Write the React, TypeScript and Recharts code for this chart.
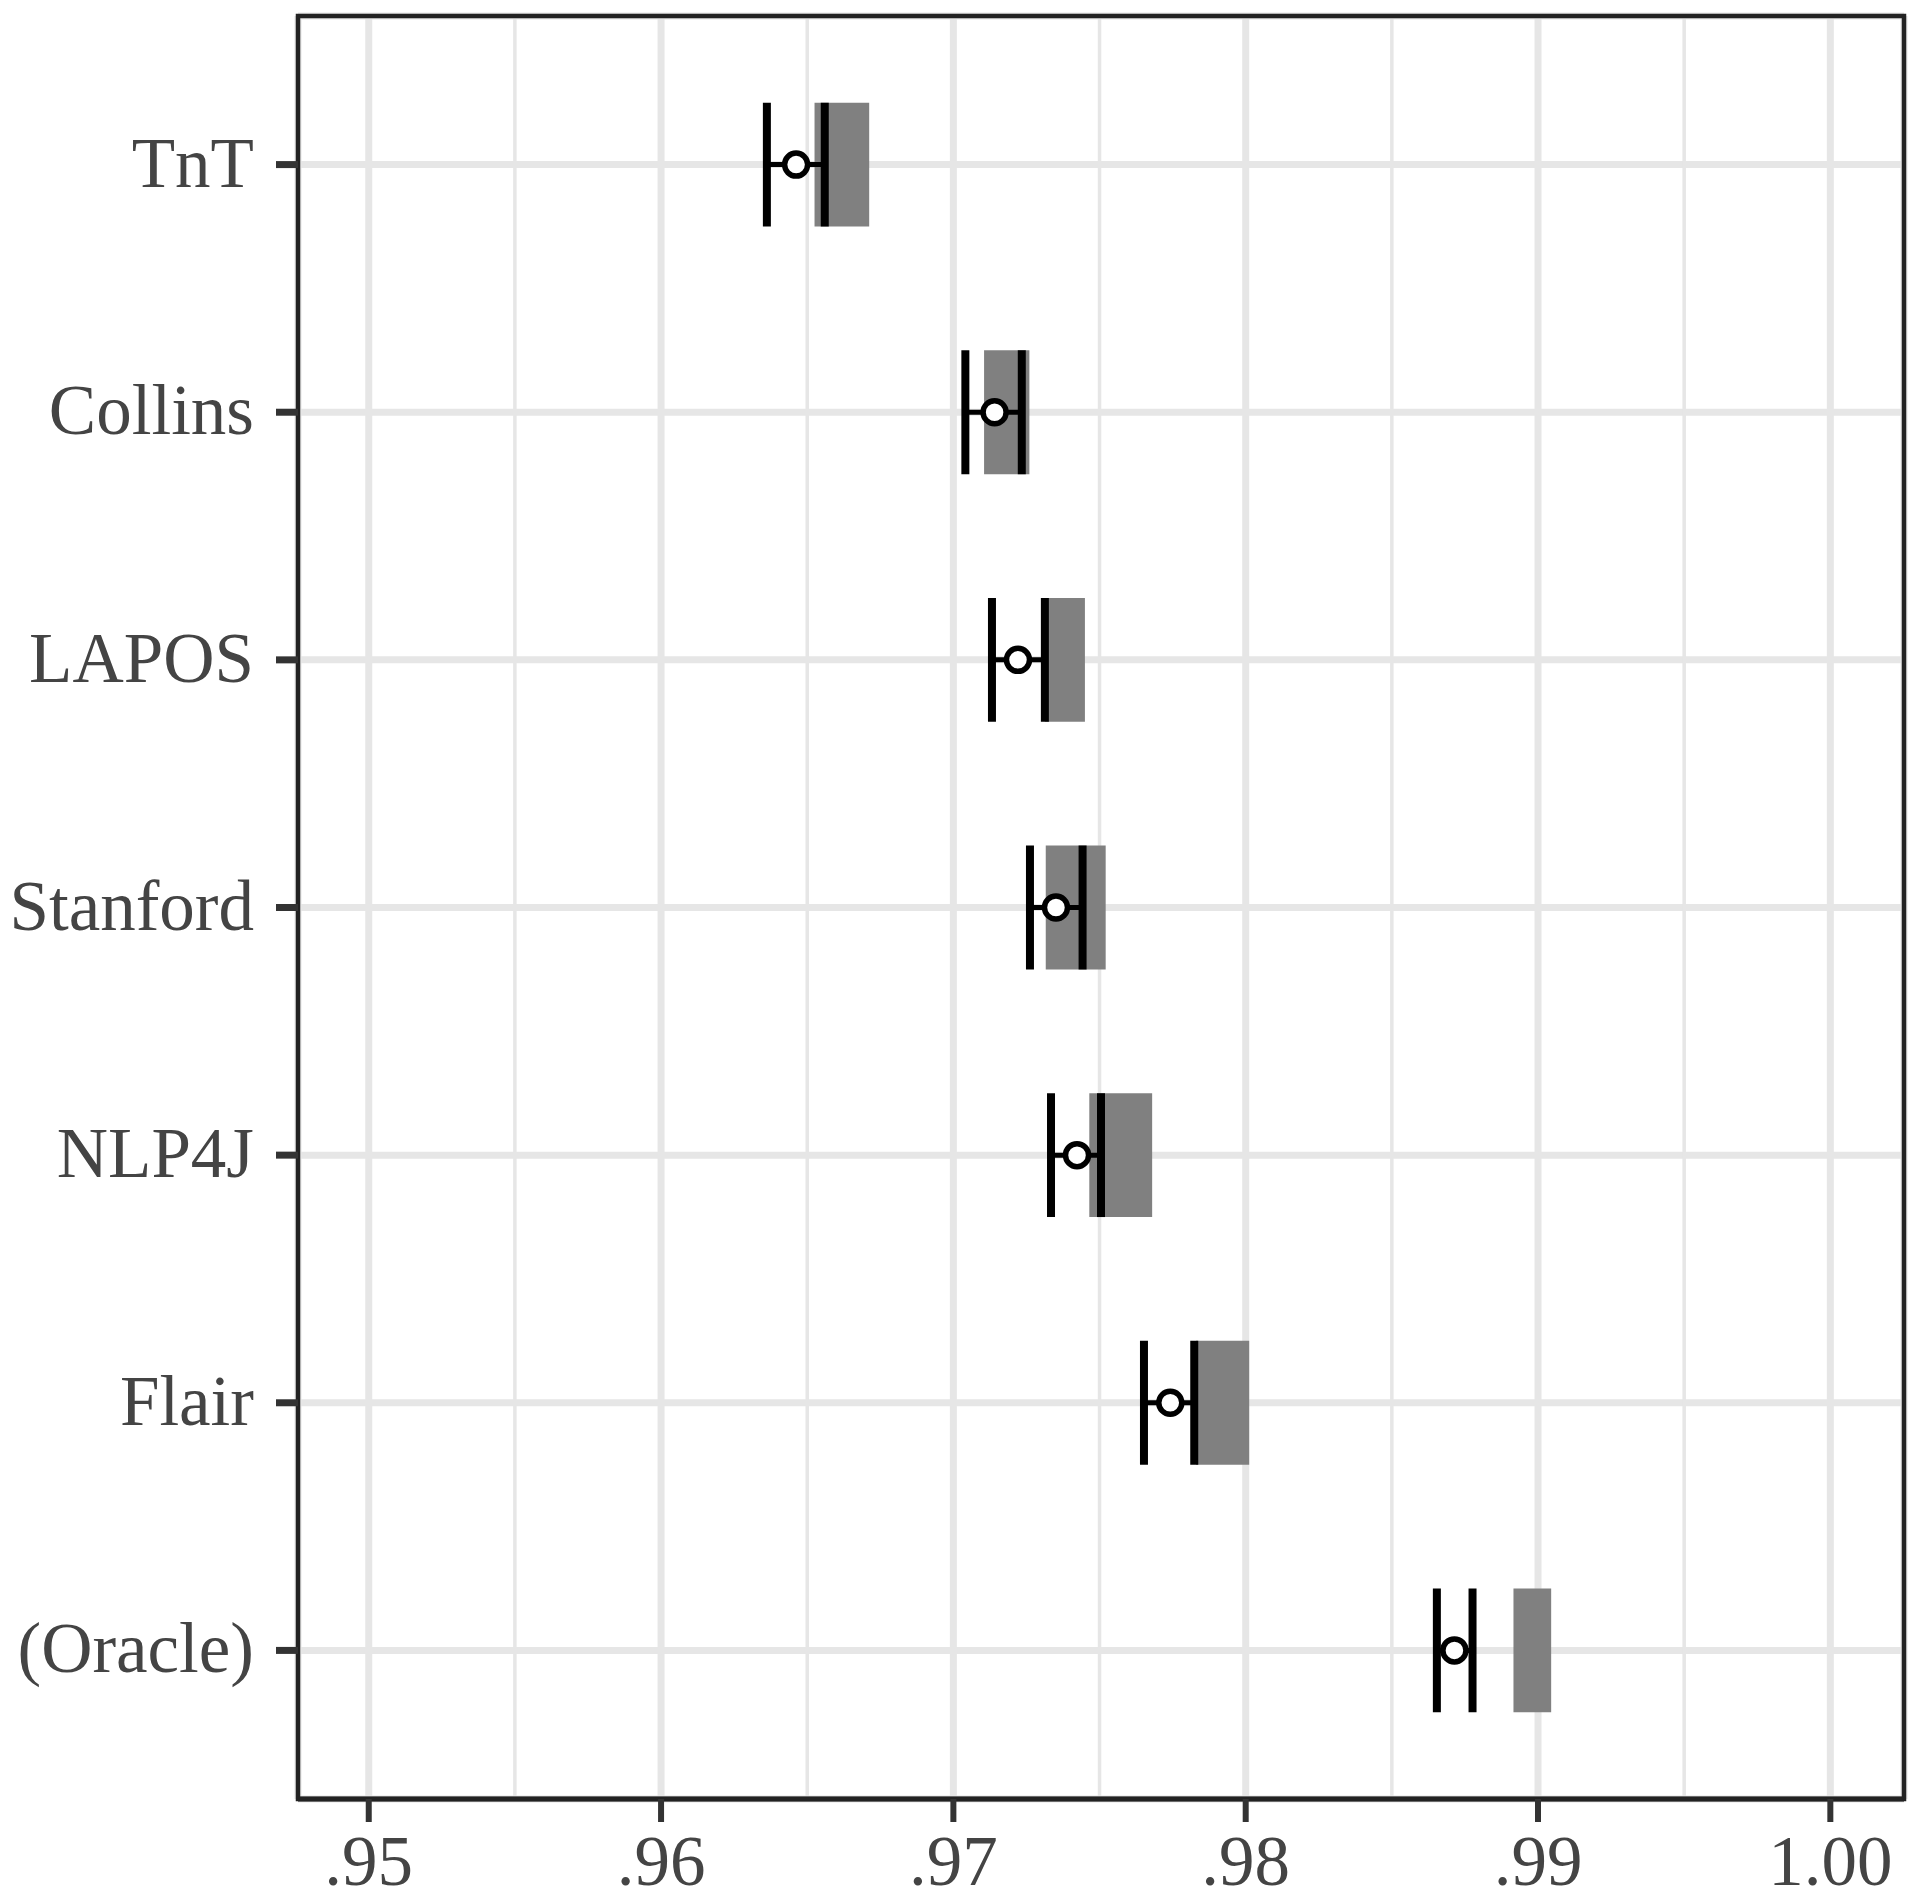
import React from "react";
import {
  ScatterChart,
  Scatter,
  XAxis,
  YAxis,
  CartesianGrid,
  ReferenceArea,
  ReferenceLine,
} from "recharts";

// ---- data ----
const categories = ["TnT", "Collins", "LAPOS", "Stanford", "NLP4J", "Flair", "(Oracle)"];
const intervalLow = [0.96362, 0.97041, 0.97132, 0.97262, 0.97334, 0.97652, 0.98654];
const pointEstimate = [0.96462, 0.97141, 0.97221, 0.97351, 0.97423, 0.97742, 0.98714];
const intervalHigh = [0.96560, 0.97234, 0.97313, 0.97442, 0.97505, 0.97824, 0.98776];
const shadedLow = [0.96525, 0.97105, 0.97313, 0.97316, 0.97465, 0.97830, 0.98916];
const shadedHigh = [0.96712, 0.97260, 0.97450, 0.97521, 0.97680, 0.98012, 0.99045];
const xTicks = [0.95, 0.96, 0.97, 0.98, 0.99, 1.0];
const xMinorTicks = [0.955, 0.965, 0.975, 0.985, 0.995];

const X_MIN = 0.94758;
const X_MAX = 1.00252;
const MINOR_HALF = 0.00006; // half width of minor grid lines in data units
const rowIndex = categories.map((_, i) => i + 1);
const points = categories.map((c, i) => ({ name: c, x: pointEstimate[i], y: i + 1 }));

const FONT = "'Liberation Serif', 'Times New Roman', serif";
const TEXT_COLOR = "#444444";
const GRID = "#e6e6e6";

const fmtX = (v: number) => (v >= 1 ? v.toFixed(2) : v.toFixed(2).replace(/^0/, ""));

const XTick = (props: any) => {
  const { x, y, payload } = props;
  return (
    <g transform={`translate(${x},${y})`}>
      <text textAnchor="middle" dy={45} fontFamily={FONT} fontSize={71} fill={TEXT_COLOR}>
        {fmtX(payload.value)}
      </text>
    </g>
  );
};

const YTick = (props: any) => {
  const { x, y, payload } = props;
  const label = categories[Math.round(payload.value) - 1] ?? "";
  return (
    <g transform={`translate(${x},${y})`}>
      <text textAnchor="end" dy={22} fontFamily={FONT} fontSize={71} fill={TEXT_COLOR}>
        {label}
      </text>
    </g>
  );
};

const Dot = (props: any) => {
  const { cx, cy } = props;
  return <circle cx={cx} cy={cy} r={11.5} fill="#ffffff" stroke="#000000" strokeWidth={5.5} />;
};

export default function App() {
  return (
    <div style={{ position: "absolute", left: 0, top: 0, width: 1920, height: 1902, background: "#ffffff" }}>
      <ScatterChart width={1920} height={1902} margin={{ top: 16, right: 16, bottom: 0, left: 0 }}>
        <CartesianGrid stroke={GRID} strokeWidth={7} />
        <XAxis
          type="number"
          dataKey="x"
          domain={[X_MIN, X_MAX]}
          ticks={xTicks}
          allowDataOverflow
          interval={0}
          height={103}
          tickSize={23}
          tickMargin={18}
          tick={<XTick />}
          tickLine={{ stroke: "#333333", strokeWidth: 6 }}
          axisLine={{ stroke: "#222222", strokeWidth: 5 }}
        />
        <YAxis
          type="number"
          dataKey="y"
          domain={[0.4, 7.6]}
          reversed
          ticks={rowIndex}
          allowDataOverflow
          interval={0}
          width={298}
          tickSize={22}
          tickMargin={22}
          tick={<YTick />}
          tickLine={{ stroke: "#333333", strokeWidth: 7 }}
          axisLine={false}
        />
        {xMinorTicks.map((v) => (
          <ReferenceArea
            key={`minor-${v}`}
            x1={v - MINOR_HALF}
            x2={v + MINOR_HALF}
            y1={0.4}
            y2={7.6}
            fill={GRID}
            fillOpacity={1}
            stroke="none"
          />
        ))}
        {categories.map((c, i) => (
          <ReferenceArea
            key={`shade-${c}`}
            x1={shadedLow[i]}
            x2={shadedHigh[i]}
            y1={i + 1 - 0.25}
            y2={i + 1 + 0.25}
            fill="#808080"
            fillOpacity={1}
            stroke="none"
          />
        ))}
        <ReferenceArea
          x1={X_MIN}
          x2={X_MAX}
          y1={0.4}
          y2={7.6}
          fill="none"
          fillOpacity={0}
          stroke="#222222"
          strokeWidth={4.5}
        />
        {categories.map((c, i) => (
          <ReferenceLine
            key={`whisker-${c}`}
            segment={[
              { x: intervalLow[i], y: i + 1 },
              { x: intervalHigh[i], y: i + 1 },
            ]}
            stroke="#000000"
            strokeWidth={5}
          />
        ))}
        {categories.map((c, i) => (
          <ReferenceLine
            key={`lo-${c}`}
            segment={[
              { x: intervalLow[i], y: i + 1 - 0.25 },
              { x: intervalLow[i], y: i + 1 + 0.25 },
            ]}
            stroke="#000000"
            strokeWidth={8}
          />
        ))}
        {categories.map((c, i) => (
          <ReferenceLine
            key={`hi-${c}`}
            segment={[
              { x: intervalHigh[i], y: i + 1 - 0.25 },
              { x: intervalHigh[i], y: i + 1 + 0.25 },
            ]}
            stroke="#000000"
            strokeWidth={8}
          />
        ))}
        <Scatter data={points} shape={<Dot />} isAnimationActive={false} />
      </ScatterChart>
    </div>
  );
}
